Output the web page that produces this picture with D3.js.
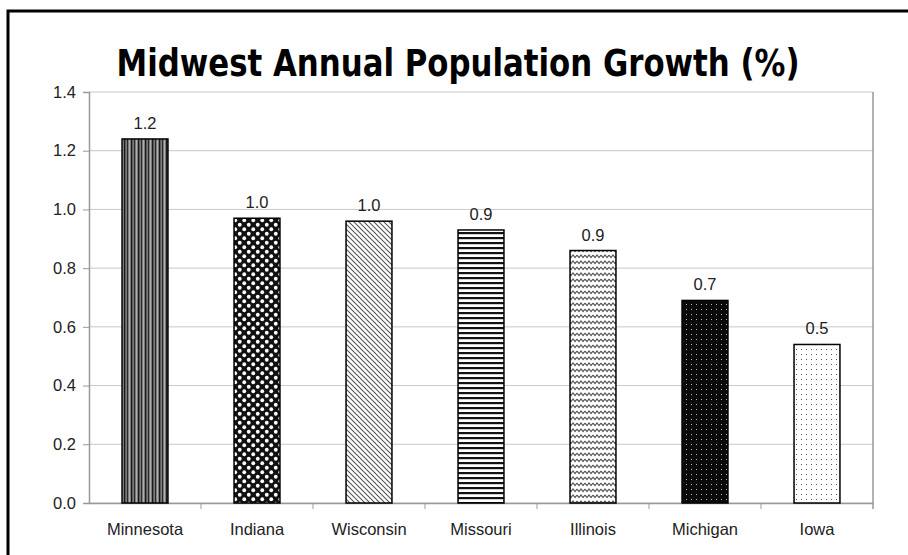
<!DOCTYPE html>
<html>
<head>
<meta charset="utf-8">
<script src="https://d3js.org/d3.v7.min.js"></script>
<style>
  body { margin: 0; background: #fff; }
</style>
</head>
<body>
<div id="renderDiv"></div>
<script>
// data
const states = ["Minnesota", "Indiana", "Wisconsin", "Missouri", "Illinois", "Michigan", "Iowa"];
const growth = [1.24, 0.97, 0.96, 0.93, 0.86, 0.69, 0.54];
const yTicks = [0, 0.2, 0.4, 0.6, 0.8, 1.0, 1.2, 1.4];
const patternIds = ["vstripe", "polka", "diag", "hstripe", "zigzag", "darkdots", "lightdots"];

const SVGWIDTH = 908, SVGHEIGHT = 555;
let margin = { top: 92, right: 35, bottom: 52, left: 89 };
let width = SVGWIDTH - margin.left - margin.right,
    height = SVGHEIGHT - margin.top - margin.bottom;
const labelFont = "'Liberation Sans', Arial, sans-serif";

let svg = d3.select("#renderDiv").append("svg")
    .attr("width", SVGWIDTH).attr("height", SVGHEIGHT)
    .style("font-family", labelFont);

// --- fill patterns (one per bar) ---
let defs = svg.append("defs");

function pattern(id, w, h) {
    return defs.append("pattern").attr("id", id)
        .attr("patternUnits", "userSpaceOnUse")
        .attr("width", w).attr("height", h);
}

let p = pattern("vstripe", 7, 4);
p.append("rect").attr("width", 7).attr("height", 4).attr("fill", "#7a7a7a");
p.append("rect").attr("x", 0).attr("width", 1.3).attr("height", 4).attr("fill", "#1a1a1a");
p.append("rect").attr("x", 3).attr("width", 1).attr("height", 4).attr("fill", "#2a2a2a");
p.append("rect").attr("x", 5).attr("width", 1).attr("height", 4).attr("fill", "#b0b0b0");

p = pattern("polka", 9, 9);
p.append("rect").attr("width", 9).attr("height", 9).attr("fill", "#111");
p.append("circle").attr("cx", 2.25).attr("cy", 2.25).attr("r", 1.9).attr("fill", "#fff");
p.append("circle").attr("cx", 6.75).attr("cy", 6.75).attr("r", 1.9).attr("fill", "#fff");

p = pattern("diag", 5, 5);
p.append("rect").attr("width", 5).attr("height", 5).attr("fill", "#fff");
p.append("path").attr("d", "M-1,-1L6,6M-1,4L1,6M4,-1L6,1")
    .attr("stroke", "#555").attr("stroke-width", 1.1);

p = pattern("hstripe", 4, 5);
p.append("rect").attr("width", 4).attr("height", 5).attr("fill", "#fff");
p.append("rect").attr("y", 0).attr("width", 4).attr("height", 2.2).attr("fill", "#111");

p = pattern("zigzag", 8, 6);
p.append("rect").attr("width", 8).attr("height", 6).attr("fill", "#fff");
p.append("path").attr("d", "M0,1L2,3.5L4,1L6,3.5L8,1")
    .attr("fill", "none").attr("stroke", "#555").attr("stroke-width", 1.2);

p = pattern("darkdots", 5, 5);
p.append("rect").attr("width", 5).attr("height", 5).attr("fill", "#0a0a0a");
p.append("rect").attr("x", 2).attr("y", 2).attr("width", 1).attr("height", 1).attr("fill", "#bbb");

p = pattern("lightdots", 5, 5);
p.append("rect").attr("width", 5).attr("height", 5).attr("fill", "#fff");
p.append("rect").attr("x", 2).attr("y", 2).attr("width", 1).attr("height", 1).attr("fill", "#555");

// --- outer frame (left and top only visible) ---
svg.append("path")
    .attr("d", "M8,556V11H910")
    .attr("fill", "none").attr("stroke", "#000").attr("stroke-width", 3);

// --- title ---
svg.append("text")
    .attr("x", 458).attr("y", 76)
    .attr("text-anchor", "middle")
    .attr("font-family", "'DejaVu Sans Condensed', 'DejaVu Sans', sans-serif")
    .attr("font-weight", "bold")
    .attr("font-size", "37px")
    .attr("textLength", 683).attr("lengthAdjust", "spacingAndGlyphs")
    .attr("fill", "#000")
    .text("Midwest Annual Population Growth (%)");

let g = svg.append("g")
    .attr("transform", "translate(" + margin.left + "," + margin.top + ")");

// scales
let x = d3.scaleBand().domain(states).range([0, width]).paddingInner(0.59).paddingOuter(0.295);
let y = d3.scaleLinear().domain([0, 1.4]).range([height, 0]);

// gridlines
g.append("g").selectAll("line")
    .data(yTicks)
    .enter().append("line")
    .attr("x1", 0).attr("x2", width)
    .attr("y1", d => y(d)).attr("y2", d => y(d))
    .attr("stroke", "#c8c8c8").attr("stroke-width", 1);

// right border of the plot area
g.append("line")
    .attr("x1", width).attr("x2", width)
    .attr("y1", 0).attr("y2", height + 6)
    .attr("stroke", "#999").attr("stroke-width", 1.5);

// y axis
let yAxis = g.append("g")
    .call(d3.axisLeft(y).tickValues(yTicks).tickFormat(d3.format(".1f")).tickSize(6).tickPadding(7));
yAxis.select(".domain").attr("stroke", "#999").attr("stroke-width", 1.5);
yAxis.selectAll(".tick line").attr("stroke", "#999");
yAxis.selectAll("text").attr("font-size", "16.5px").attr("fill", "#222")
    .attr("font-family", labelFont);

// x axis: labels centred in bands, ticks at band edges
let xAxis = g.append("g")
    .attr("transform", "translate(0," + height + ")")
    .call(d3.axisBottom(x).tickSize(0).tickPadding(20));
xAxis.select(".domain").attr("stroke", "#999").attr("stroke-width", 1.5);
xAxis.selectAll("text").attr("font-size", "16.5px").attr("fill", "#222")
    .attr("font-family", labelFont);

let step = x.step();
xAxis.append("g").selectAll("line")
    .data(d3.range(1, states.length))
    .enter().append("line")
    .attr("x1", d => d * step).attr("x2", d => d * step)
    .attr("y1", 0).attr("y2", 6)
    .attr("stroke", "#999").attr("stroke-width", 1);

// bars
g.append("g").selectAll("rect")
    .data(states)
    .enter().append("rect")
    .attr("x", d => x(d))
    .attr("y", (d, i) => y(growth[i]))
    .attr("width", x.bandwidth())
    .attr("height", (d, i) => height - y(growth[i]))
    .attr("fill", (d, i) => "url(#" + patternIds[i] + ")")
    .attr("stroke", "#000").attr("stroke-width", 1.5);

// value labels
g.append("g").selectAll("text")
    .data(states)
    .enter().append("text")
    .attr("x", d => x(d) + x.bandwidth() / 2)
    .attr("y", (d, i) => y(growth[i]) - 10)
    .attr("text-anchor", "middle")
    .attr("font-size", "16.5px").attr("fill", "#222")
    .text((d, i) => d3.format(".1f")(growth[i]));
</script>
</body>
</html>
